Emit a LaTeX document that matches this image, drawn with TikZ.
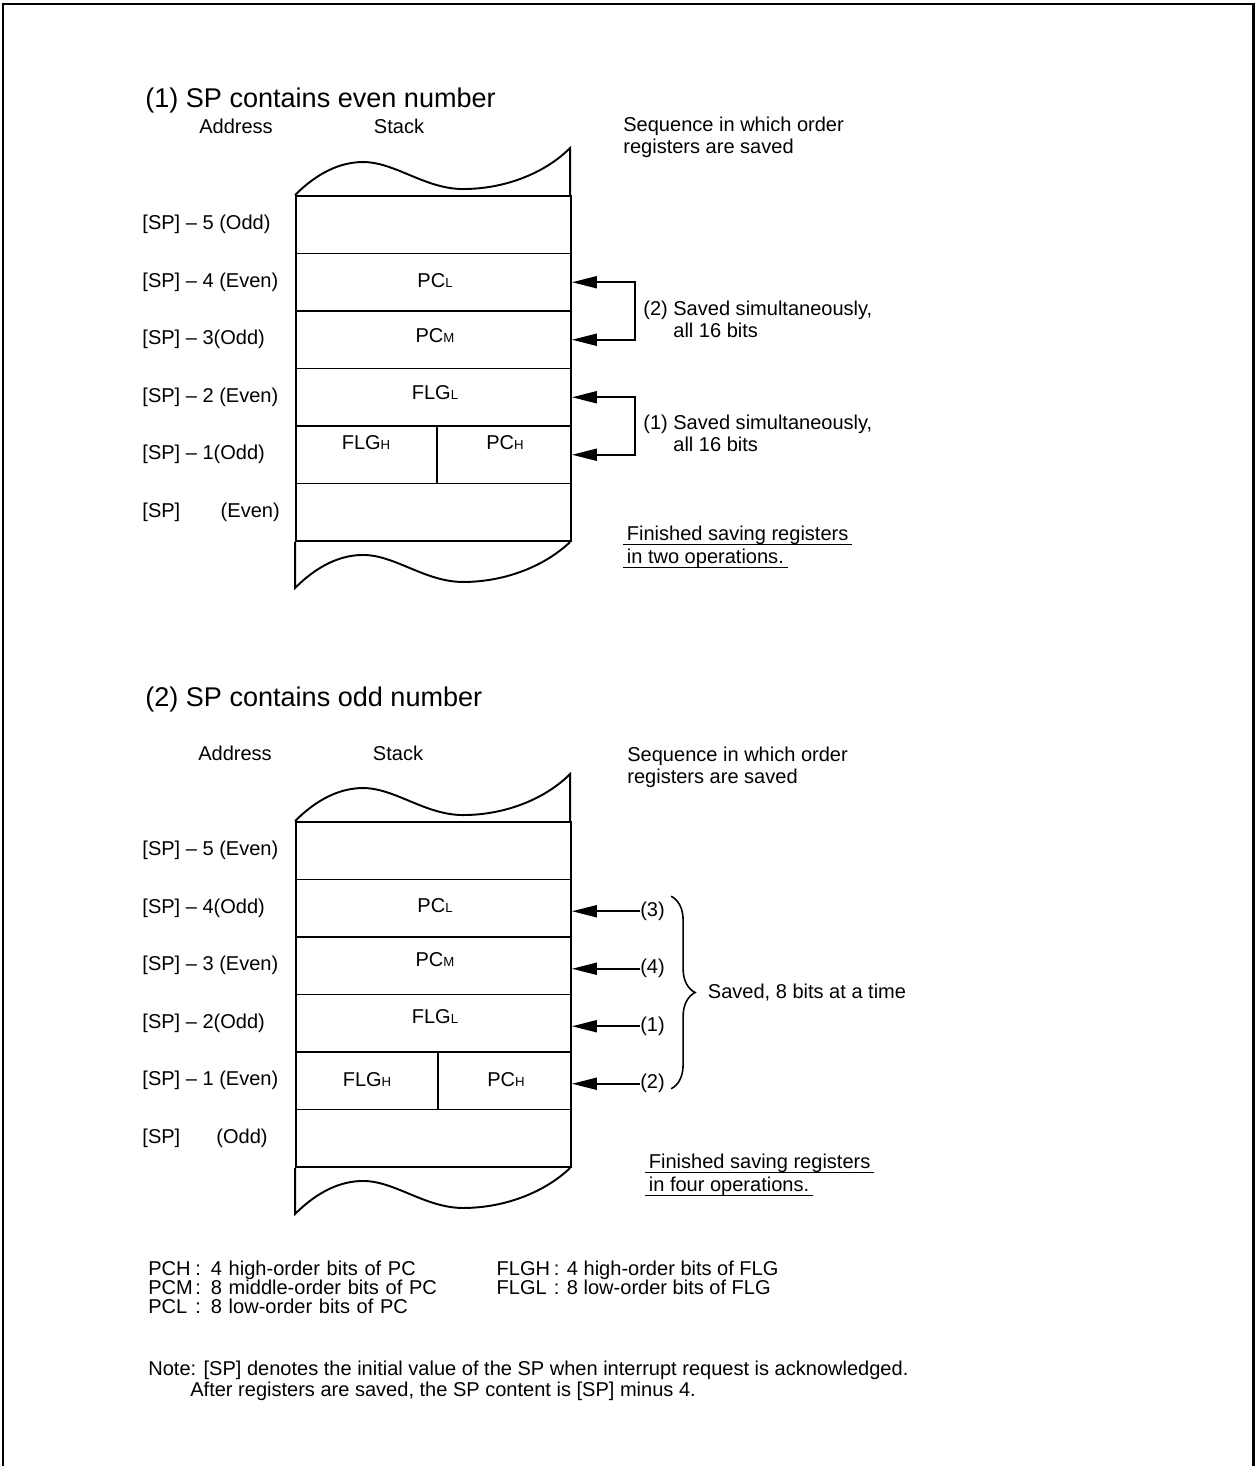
\documentclass[tikz,border=0pt]{standalone}
\usepackage{fontspec}
\setmainfont{Liberation Sans}
\usetikzlibrary{matrix, positioning, arrows.meta, decorations.pathreplacing}

\newcommand{\regsub}[1]{{\fontsize{7.5}{7.5}\selectfont #1}}

\begin{document}
\begin{tikzpicture}[x=0.02cm, y=-0.02cm,
    every node/.style={font=\fontsize{11.4}{12.5}\selectfont, inner sep=0pt},
    title/.style={font=\fontsize{15.4}{18}\selectfont, anchor=west},
    cell/.style={draw, line width=1.1pt, minimum width=5.5cm, minimum height=1.15cm},
    addr/.style={anchor=west},
    savearrow/.style={-{Triangle[length=0.5cm, width=0.24cm]}, line width=1.1pt},
    savepair/.style={{Triangle[length=0.5cm, width=0.24cm]}-{Triangle[length=0.5cm, width=0.24cm]}, line width=1.1pt},
    uline/.style={line width=0.8pt},
    stacktop/.pic={\draw[line width=1.1pt] (0,0) .. controls (22,-22) and (45,-33) .. (68,-33)
        .. controls (100,-33) and (130,-6) .. (168,-6) .. controls (210,-6) and (250,-22) .. (275,-47) -- (275,0);},
    stackbot/.pic={\draw[line width=1.1pt] (0,0) -- (0,46) .. controls (22,24) and (45,13) .. (68,13)
        .. controls (100,13) and (130,40) .. (168,40) .. controls (210,40) and (250,24) .. (275,0);}
  ]
  \useasboundingbox (0,0) rectangle (1257,1466);
  \draw[line width=1.7pt] (3,1466) -- (3,4) -- (1253,4) -- (1253,1466);

  % (1) even SP
  \node[title] (t1) at (145,101) {(1) SP contains even number};
  \node (addr1) at (236,126) {Address};
  \node (stk1) at (399,126) {Stack};
  \node[anchor=west, align=left] (seq1) at (623,137) {Sequence in which order\\registers are saved};
  \foreach \i in {0,...,5}
    \node[cell] (a\i) at (433.5,{512.25-57.5*\i}) {};
  \pic at (a5.north west) {stacktop};
  \pic at (a0.south west) {stackbot};
  \draw[line width=1.1pt] ([xshift=0.07cm]a1.north) -- ([xshift=0.07cm]a1.south);
  \foreach \i/\txt in {5/{[SP] – 5 (Odd)}, 4/{[SP] – 4 (Even)}, 3/{[SP] – 3(Odd)},
                       2/{[SP] – 2 (Even)}, 1/{[SP] – 1(Odd)}, 0/{[SP]}}
    \node[addr] (p\i) at ([xshift=-3.06cm]a\i.west) {\txt};
  \node[anchor=east] (p0x) at ([xshift=-0.3cm]a0.west) {(Even)};
  \node (pcl1) at (435,281) {PC\regsub{L}};
  \node (pcm1) at (435,336) {PC\regsub{M}};
  \node (flgl1) at (435,393) {FLG\regsub{L}};
  \node (flgh1) at (366,443) {FLG\regsub{H}};
  \node (pch1) at (505,443) {PC\regsub{H}};
  \draw[savepair] (a4.east) -- ++(63,0) |- (a3.east);
  \draw[savepair] (a2.east) -- ++(63,0) |- (a1.east);
  \node[anchor=west, align=left] (sim2) at (643,319) {(2) Saved simultaneously,\\\hphantom{(2) }all 16 bits};
  \node[anchor=west, align=left] (sim1) at (643,433) {(1) Saved simultaneously,\\\hphantom{(1) }all 16 bits};
  \node[anchor=base west, inner xsep=2pt] (fin1a) at (623,540) {Finished saving registers};
  \node[anchor=base west, inner xsep=2pt] (fin1b) at (623,563) {in two operations.\ };
  \draw[uline] (fin1a.south west) -- (fin1a.south east);
  \draw[uline] (fin1b.south west) -- (fin1b.south east);

  % (2) odd SP
  \node[title] (t2) at (145,699) {(2) SP contains odd number};
  \node (addr2) at (235,753) {Address};
  \node (stk2) at (398,753) {Stack};
  \node[anchor=west, align=left] (seq2) at (627,767.5) {Sequence in which order\\registers are saved};
  \foreach \i in {0,...,5}
    \node[cell] (b\i) at (433.5,{1138.25-57.5*\i}) {};
  \pic at (b5.north west) {stacktop};
  \pic at (b0.south west) {stackbot};
  \draw[line width=1.1pt] ([xshift=0.09cm]b1.north) -- ([xshift=0.09cm]b1.south);
  \foreach \i/\txt in {5/{[SP] – 5 (Even)}, 4/{[SP] – 4(Odd)}, 3/{[SP] – 3 (Even)},
                       2/{[SP] – 2(Odd)}, 1/{[SP] – 1 (Even)}, 0/{[SP]}}
    \node[addr] (q\i) at ([xshift=-3.06cm]b\i.west) {\txt};
  \node[addr] (q0x) at ([xshift=-1.58cm]b0.west) {(Odd)};
  \node (pcl2) at (435,906) {PC\regsub{L}};
  \node (pcm2) at (435,960) {PC\regsub{M}};
  \node (flgl2) at (435,1017) {FLG\regsub{L}};
  \node (flgh2) at (367,1080) {FLG\regsub{H}};
  \node (pch2) at (506,1080) {PC\regsub{H}};
  \foreach \r/\n in {4/3, 3/4, 2/1, 1/2} {
    \node[anchor=west] (s\n) at ([xshift=1.36cm, yshift=-0.06cm]b\r.east) {(\n)};
    \draw[savearrow] (s\n.west) -- ([yshift=-0.06cm]b\r.east);
  }
  \draw[line width=0.9pt, decorate, decoration={brace, amplitude=0.48cm}]
    ([xshift=0.12cm, yshift=0.3cm]s3.east) -- ([xshift=0.12cm, yshift=-0.1cm]s2.east)
    node[midway, anchor=west, xshift=0.72cm] (bits8) {Saved, 8 bits at a time};
  \node[anchor=base west, inner xsep=2pt] (fin2a) at (645,1168) {Finished saving registers};
  \node[anchor=base west, inner xsep=2pt] (fin2b) at (645,1191) {in four operations.\ };
  \draw[uline] (fin2a.south west) -- (fin2a.south east);
  \draw[uline] (fin2b.south west) -- (fin2b.south east);

  % key and note
  \matrix (key) [matrix of nodes, anchor=north west,
      nodes={anchor=base west, align=left, text height=0.26cm, text depth=0.12cm},
      column 1/.style={nodes={text width=0.94cm}},
      column 2/.style={nodes={text width=6.02cm}},
      column 3/.style={nodes={text width=1.14cm}}] at (148,1262) {
    PCH & : 4 high-order bits of PC & FLGH & : 4 high-order bits of FLG \\
    PCM & : 8 middle-order bits of PC & FLGL & : 8 low-order bits of FLG \\
    PCL & : 8 low-order bits of PC & & \\
  };
  \node[anchor=base west] (note1) at (148,1375) {Note: [SP] denotes the initial value of the SP when interrupt request is acknowledged.};
  \node[anchor=base west] (note2) at (190,1396) {After registers are saved, the SP content is [SP] minus 4.};
\end{tikzpicture}
\end{document}
